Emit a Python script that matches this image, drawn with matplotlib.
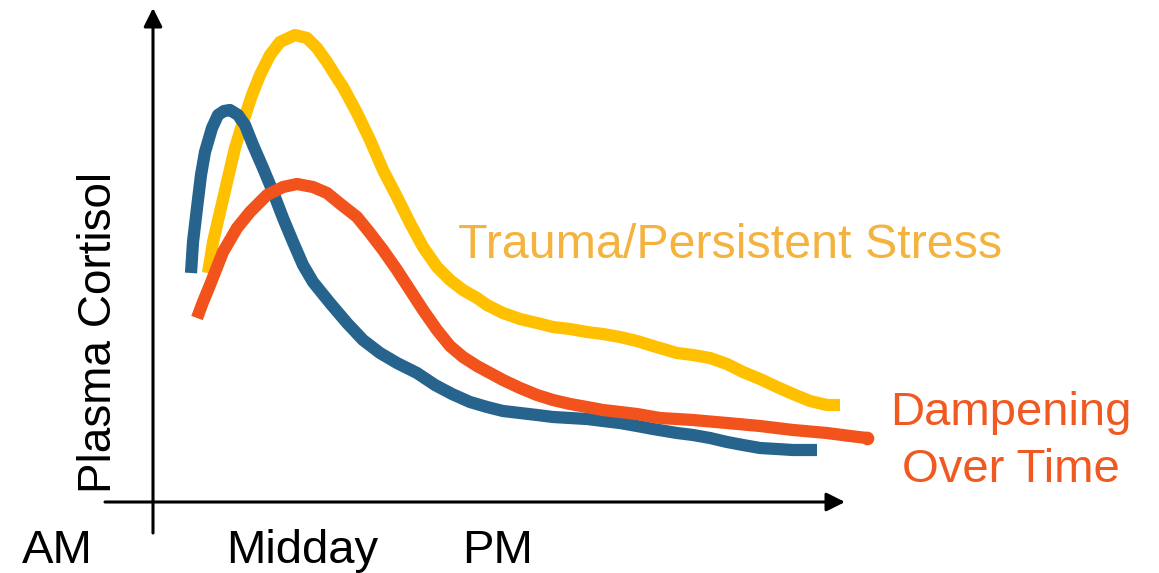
import numpy as np
import matplotlib.pyplot as plt

plt.rcParams['font.family'] = ['Liberation Sans', 'DejaVu Sans']

# curves (time units, cortisol level units)
blue_t = [38, 40, 44, 48, 52, 59, 65, 71, 77, 85, 92, 100, 110, 120, 130, 140,
          150, 160, 177, 194, 210, 227, 244, 264, 282, 299, 317, 334, 350, 367,
          384, 400, 417, 434, 450, 467, 484, 500, 524, 540, 557, 574, 590, 607,
          624, 640, 664]
blue_y = [229, 260, 294, 327, 350, 374, 387, 391, 392, 387, 377, 357, 334, 310, 284, 260,
          237, 220, 199, 179, 162, 149, 139, 129, 117, 108, 100, 95, 91, 89,
          87, 85, 84, 83, 81, 79, 76, 73, 69, 67, 64, 60, 57, 54,
          53, 52, 52]

yellow_t = [55, 60, 67, 74, 82, 90, 99, 107, 117, 127, 142, 154, 164, 174, 184,
            190, 204, 217, 230, 244, 257, 270, 284, 297, 310, 324, 334, 350, 367,
            384, 400, 417, 434, 450, 467, 484, 500, 524, 540, 557, 574, 590, 607,
            624, 640, 657, 674, 687]
yellow_y = [229, 260, 290, 320, 354, 380, 407, 427, 447, 460, 467, 464, 454, 440, 424,
            415, 389, 362, 332, 305, 279, 255, 235, 222, 212, 204, 197, 189, 183,
            179, 175, 173, 170, 168, 165, 161, 156, 149, 147, 144, 138, 130, 123,
            115, 108, 101, 97, 97]

orange_t = [44, 50, 57, 70, 84, 97, 114, 130, 144, 160, 174, 185, 190, 204, 217,
            230, 244, 257, 270, 284, 297, 310, 324, 337, 350, 367, 384, 400, 417,
            434, 450, 467, 484, 507, 540, 574, 607, 640, 674, 697, 714]
orange_y = [184, 200, 217, 250, 274, 290, 307, 315, 318, 315, 309, 300, 296, 285, 269,
            252, 232, 212, 192, 172, 156, 145, 136, 129, 122, 114, 107, 102, 98,
            95, 92, 90, 88, 84, 82, 79, 76, 72, 69, 66, 64]

blue = '#26648E'
yellow = '#FFC000'
orange = '#F2521B'
lw = 8.8
fs = 34

fig = plt.figure(figsize=(11.59, 5.73), dpi=100)
ax = fig.add_axes([0, 0, 1, 1])
ax.set_xlim(-153, 1006)
ax.set_ylim(-71, 502)
ax.axis('off')

ax.plot(yellow_t, yellow_y, color=yellow, lw=lw, solid_capstyle='butt', solid_joinstyle='round')
ax.plot(blue_t, blue_y, color=blue, lw=lw, solid_capstyle='butt', solid_joinstyle='round')
ax.plot(orange_t, orange_y, color=orange, lw=lw, solid_capstyle='butt', solid_joinstyle='round')
ax.plot(orange_t[-1], orange_y[-1], 'o', color=orange, ms=lw)

# axes with arrows
arrow = dict(arrowstyle='-|>,head_length=0.8,head_width=0.4', lw=2.2, color='black',
             mutation_scale=14, shrinkA=0, shrinkB=0)
ax.annotate('', xy=(0, 494), xytext=(0, -31), arrowprops=arrow)
ax.annotate('', xy=(692, 0), xytext=(-48, 0), arrowprops=arrow)

ax.text(-42, 170, 'Plasma Cortisol', rotation=90, rotation_mode='anchor',
        ha='center', va='baseline', fontsize=33, color='black')
ax.text(-131, -61, 'AM', ha='left', va='baseline', fontsize=fs)
ax.text(73, -61, 'Midday', ha='left', va='baseline', fontsize=fs)
ax.text(309, -61, 'PM', ha='left', va='baseline', fontsize=fs)

ax.text(305, 244, 'Trauma/Persistent Stress', ha='left', va='baseline',
        fontsize=34.8, color='#F4B23E')
ax.text(858, 77, 'Dampening', ha='center', va='baseline', fontsize=fs, color='#F05A22')
ax.text(858, 20, 'Over Time', ha='center', va='baseline', fontsize=fs, color='#F05A22')

plt.savefig('out.png', dpi=100)
